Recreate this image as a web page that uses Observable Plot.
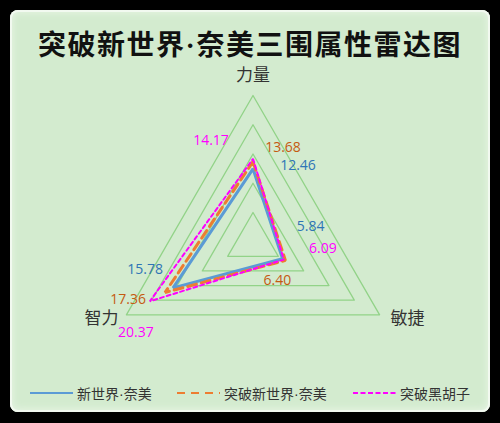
<!DOCTYPE html>
<html><head><meta charset="utf-8">
<script src="https://cdn.jsdelivr.net/npm/d3@7"></script>
<script src="https://cdn.jsdelivr.net/npm/@observablehq/plot@0.6"></script>
<style>
html,body{margin:0;padding:0;background:#000;width:500px;height:423px;overflow:hidden}
#card{position:absolute;left:10px;top:10px;width:480px;height:402px;background:#d3ebcf;border-radius:8px;box-shadow:inset 0 0 0 2px #f2f9f0, inset 0 0 7px 3px #e6f4e3;}
#title{position:absolute;left:0;top:16px;width:480px;text-align:center;white-space:nowrap;font-family:"Liberation Serif","Noto Sans CJK SC";font-weight:bold;font-size:28px;letter-spacing:1.5px;color:#111;line-height:40px}
#chart{position:absolute;left:0;top:50px}
.item{position:absolute;top:373px;height:20px;display:flex;align-items:center;white-space:nowrap;font-family:"Liberation Sans","Noto Sans CJK SC";font-size:14px;color:#333}
.item svg{margin-right:4px}
</style></head>
<body>
<div id="card">
  <div id="title">突破新世界·奈美三围属性雷达图</div>
  <div id="chart"></div>
  <div id="legend"></div>
</div>
<script>
const axes = ["力量", "敏捷", "智力"];
const seriesNames = ["新世界·奈美", "突破新世界·奈美", "突破黑胡子"];
const nami = [12.46, 5.84, 15.78];
const namiBreak = [13.68, 6.40, 17.36];
const blackbeard = [14.17, 6.09, 20.37];
const ringTicks = [5, 10, 15, 20, 25];

const angles = [90, -30, 210].map(d => d * Math.PI / 180);
const seriesValues = [nami, namiBreak, blackbeard];
const lineColors = ["#5b9bd5", "#ed7d31", "#ff00ff"];
const textColors = ["#2e75b6", "#c55a11", "#ff00ff"];
const dashes = [null, "9,5", "4,3"];
const widths = [3, 3, 2];
const labelOffsets = [
  [[45, -3], [28, -32], [-28, -18]],
  [[30, -14], [-8, 20], [-37, 7]],
  [[-42, -18], [39, -11], [-14, 31]]
];
const axisLabelOffsets = [[0, -20], [28, 4], [-25, 4]];

const W = 480, H = 310, cx = 242.5, cy = 181.2, k = 146.2 / 25;
const xDomain = [-cx / k, (W - cx) / k];
const yDomain = [-(H - cy) / k, cy / k];

const pt = (r, i) => ({x: r * Math.cos(angles[i]), y: r * Math.sin(angles[i])});

const rings = ringTicks.flatMap(t => axes.map((a, i) => ({ring: t, ...pt(t, i)})));

const marks = [
  Plot.line(rings, {x: "x", y: "y", z: "ring", curve: "linear-closed", stroke: "#92d388", strokeWidth: 1.3})
];
seriesValues.forEach((vals, s) => {
  const pts = vals.map((v, i) => ({series: seriesNames[s], axis: axes[i], value: v, ...pt(v, i)}));
  marks.push(Plot.line(pts, {x: "x", y: "y", curve: "linear-closed", stroke: lineColors[s], strokeWidth: widths[s], strokeDasharray: dashes[s], strokeLinejoin: "miter"}));
});
seriesValues.forEach((vals, s) => {
  vals.forEach((v, i) => {
    marks.push(Plot.text([{value: v, ...pt(v, i)}], {
      x: "x", y: "y", text: d => d.value.toFixed(2),
      dx: labelOffsets[s][i][0], dy: labelOffsets[s][i][1],
      fill: textColors[s], fontSize: 14, fontFamily: "Open Sans"
    }));
  });
});
axes.forEach((a, i) => {
  marks.push(Plot.text([{name: a, ...pt(25, i)}], {
    x: "x", y: "y", text: "name", dx: axisLabelOffsets[i][0], dy: axisLabelOffsets[i][1],
    fill: "#333", fontSize: 17, fontFamily: "Noto Sans CJK SC"
  }));
});

const chart = Plot.plot({
  width: W, height: H, margin: 0,
  x: {domain: xDomain, axis: null},
  y: {domain: yDomain, axis: null},
  style: {background: "transparent", overflow: "visible"},
  marks
});
document.getElementById("chart").appendChild(chart);

const legendLefts = [20, 167, 343];
const legend = document.getElementById("legend");
seriesNames.forEach((n, s) => {
  const div = document.createElement("div");
  div.className = "item";
  div.style.left = legendLefts[s] + "px";
  const dash = s === 1 ? "8,6" : s === 2 ? "5,2.5" : "none";
  div.innerHTML = `<svg width="43" height="10"><line x1="0" y1="5" x2="43" y2="5" stroke="${lineColors[s]}" stroke-width="2" stroke-dasharray="${dash}"/></svg><span>${n}</span>`;
  legend.appendChild(div);
});
</script>
</body></html>
